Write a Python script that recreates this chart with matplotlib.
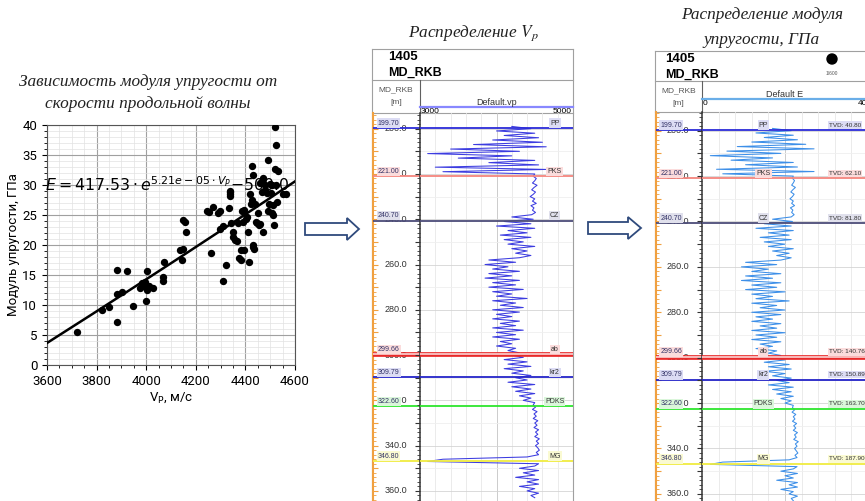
import numpy as np
import matplotlib.pyplot as plt
from matplotlib.patches import Polygon, Circle
from matplotlib.ticker import MultipleLocator, AutoMinorLocator
from matplotlib.transforms import blended_transform_factory

plt.rcParams['font.family'] = ['DejaVu Sans']

# точки кросс-плота Vp - E
vp_points = [3720, 3821, 3848, 3882, 3882, 3882, 3902, 3922, 3945, 3976,
             3983, 3990, 3996, 3999, 4003, 4005, 4013, 4027, 4066, 4067,
             4072, 4137, 4148, 4148, 4157, 4160, 4144, 4247, 4255, 4260,
             4271, 4291, 4298, 4309, 4298, 4311, 4322, 4332, 4336, 4338,
             4338, 4341, 4348, 4352, 4358, 4365, 4369, 4376, 4381, 4382,
             4385, 4391, 4394, 4396, 4403, 4405, 4412, 4416, 4419, 4421,
             4426, 4430, 4432, 4435, 4438, 4442, 4448, 4452, 4456, 4459,
             4466, 4472, 4466, 4479, 4486, 4493, 4497, 4499, 4502, 4506,
             4510, 4513, 4517, 4523, 4529, 4553, 4564, 4519, 4523, 4426,
             4432, 4493, 4519, 4533, 4472, 4479, 4459, 4506, 4338]
e_points = [5.5, 9.2, 9.6, 7.2, 15.9, 11.9, 12.2, 15.7, 9.8, 12.9,
            13.6, 13.2, 13.9, 10.6, 12.5, 15.6, 13.2, 12.8, 14.7, 14.0,
            17.1, 19.2, 19.3, 24.2, 23.9, 22.1, 17.5, 25.6, 25.5, 18.7,
            26.4, 25.4, 25.7, 23.1, 22.7, 14.0, 16.7, 26.1, 28.5, 28.9,
            28.2, 23.6, 22.1, 21.4, 20.9, 20.6, 23.7, 17.9, 17.5, 19.2,
            25.6, 23.9, 25.8, 19.1, 24.3, 24.7, 22.2, 17.1, 28.5, 26.8,
            27.5, 20.0, 19.7, 19.3, 26.9, 23.9, 23.7, 25.4, 23.3, 23.5,
            28.9, 22.1, 30.6, 29.2, 28.7, 25.6, 26.8, 30.1, 28.6, 25.4,
            26.6, 25.0, 23.3, 30.0, 27.2, 28.5, 28.5, 39.7, 36.7, 33.1,
            31.7, 34.2, 32.6, 32.3, 31.1, 30.0, 30.4, 30.0, 29.0]
fit_a, fit_b, fit_c = 417.53, 5.21e-05, -500.0

# каротаж, шаг 1 м начиная с 199 м
log_depth_start = 199
vp_log = [4200, 4450, 4000, 4500, 4100, 4550, 3950, 4600, 3700, 4650,
          3400, 4300, 3100, 4200, 3500, 4500, 3900, 4550, 3200, 4650,
          3300, 4500, 4480, 4520, 4500, 4470, 4530, 4490, 4460, 4510,
          4480, 4440, 4500, 4470, 4520, 4450, 4490, 4470, 4510, 4460,
          4200, 4480, 4100, 4450, 4000, 4500, 4150, 4400, 4050, 4450,
          4100, 4350, 4150, 4500, 4200, 4400, 4250, 4450, 4300, 3900,
          4250, 3850, 4150, 3950, 4300, 3900, 4200, 3850, 4300, 3950,
          4250, 3900, 4350, 3950, 4200, 4000, 4400, 3950, 4250, 4050,
          4350, 3950, 4300, 4000, 4200, 3950, 4300, 4050, 4250, 3950,
          4350, 4000, 4250, 3950, 4300, 4050, 4200, 4000, 4250, 4150,
          4300, 4200, 4350, 4100, 4400, 4150, 4450, 4100, 4350, 4200,
          4450, 4250, 4400, 4150, 4500, 4200, 4450, 4250, 4500, 4300,
          4450, 4350, 4500, 4480, 4510, 4470, 4530, 4490, 4520, 4480,
          4540, 4500, 4530, 4490, 4550, 4510, 4540, 4500, 4560, 4520,
          4550, 4510, 4540, 4560, 4520, 4550, 4400, 3300, 3100, 4550,
          4500, 4300, 4550, 4350, 4500, 4250, 4550, 4400, 4550, 4300,
          4500, 4400, 4550, 4450, 4500]
e_log = [17, 21.5, 13, 22, 15, 23, 12, 25, 8.5, 27,
         6, 19, 2, 17, 7, 22, 10.5, 23, 3.5, 27,
         5, 22, 21.8, 22.3, 22.0, 21.6, 22.5, 21.9, 21.4, 22.2,
         21.8, 21.2, 22.0, 21.6, 22.3, 21.3, 21.9, 21.6, 22.2, 21.5,
         17, 21.8, 15, 21.5, 13, 22, 16, 21, 14, 21.5,
         15, 20, 16, 22, 17, 21, 18, 21.5, 19, 10.5,
         18, 9.5, 16, 12, 19, 10.5, 17, 9.5, 19, 12,
         18, 10.5, 20, 12, 17, 13, 21, 12, 18, 14,
         20, 12, 19, 13, 17, 12, 19, 14, 18, 12,
         20, 13, 18, 12, 19, 14, 17, 13, 18, 16,
         19, 17, 20, 15, 21, 16, 21.5, 15, 20, 17,
         21.5, 18, 21, 16, 22, 17, 21.5, 18, 22, 19,
         21.5, 20, 22, 21.8, 22.3, 21.7, 22.6, 22.0, 22.4, 21.8,
         22.8, 22.1, 22.6, 22.0, 23.0, 22.3, 22.7, 22.1, 23.2, 22.5,
         22.9, 22.3, 22.7, 23.1, 22.4, 22.9, 21, 5, 2, 22.9,
         22.0, 19, 23, 20, 22, 18, 23, 21, 23, 19,
         22, 21, 23, 21.5, 22]

# стратиграфические отбивки
tops_md = [199.70, 221.00, 240.70, 299.66, 309.79, 322.60, 346.80]
tops_name = ['PP', 'PKS', 'CZ', 'ab', 'kr2', 'PDKS', 'MG']
tops_tvd = [40.80, 62.10, 81.80, 140.76, 150.89, 163.70, 187.90]
tops_color = ['#2b2bd8', '#f4857d', '#4c4c78', '#e82a2a', '#2424c8', '#2ee62e', '#f0ec40']
tops_tint = ['#dcdcf4', '#fbdcdc', '#e0e0ec', '#fbdcdc', '#dcdcf4', '#daf6da', '#fafad2']

W, H = 865, 501
fig = plt.figure(figsize=(W / 100, H / 100), dpi=100)


def px_axes(x0, y0, x1, y1):
    return fig.add_axes([x0 / W, 1 - y1 / H, (x1 - x0) / W, (y1 - y0) / H])


bg = px_axes(0, 0, W, H)
bg.set_xlim(0, W)
bg.set_ylim(H, 0)
bg.axis('off')

serif = dict(family='Liberation Serif', style='italic', color='#222222',
             ha='center', va='center')
bg.text(148, 82, 'Зависимость модуля упругости от', fontsize=12.4, **serif)
bg.text(148, 104, 'скорости продольной волны', fontsize=12.4, **serif)
bg.text(473, 33, 'Распределение $V_p$', math_fontfamily='stix', fontsize=12.4, **serif)
bg.text(762, 15, 'Распределение модуля', fontsize=12.4, **serif)
bg.text(762, 40, 'упругости, ГПа', fontsize=12.4, **serif)

# стрелки
for xs, xh, xt, yc in [(305, 347, 359, 229), (588, 628, 641, 228)]:
    pts = [(xs, yc - 6), (xh, yc - 6), (xh, yc - 11), (xt, yc), (xh, yc + 11),
           (xh, yc + 6), (xs, yc + 6)]
    bg.add_patch(Polygon(pts, closed=True, facecolor='white', edgecolor='#2f4a7c', lw=1.3))

# кросс-плот
ax = px_axes(47, 125, 295, 365)
ax.set_axisbelow(True)
ax.scatter(vp_points, e_points, s=28, c='black', zorder=3, linewidths=0)
v_fit = np.linspace(3600, 4600, 200)
ax.plot(v_fit, fit_a * np.exp(fit_b * v_fit) + fit_c, color='black', lw=1.8, zorder=4)
ax.set_xlim(3600, 4600)
ax.set_ylim(0, 40)
ax.set_xticks(range(3600, 4601, 200))
ax.set_yticks(range(0, 41, 5))
ax.xaxis.set_minor_locator(AutoMinorLocator())
ax.yaxis.set_minor_locator(AutoMinorLocator())
ax.grid(which='major', color='#a0a0a0', lw=0.8)
ax.grid(which='minor', color='#e2e2e2', lw=0.5)
ax.tick_params(labelsize=9.5)
for lab in ax.get_xticklabels() + ax.get_yticklabels():
    lab.set_family('Roboto')
for s in ax.spines.values():
    s.set_color('#555555')
ax.set_xlabel('V$_\\mathrm{P}$, м/с', fontsize=9.5, family='Roboto', labelpad=2)
ax.set_ylabel('Модуль упругости, ГПа', fontsize=9.5, family='Roboto', labelpad=2)
eq = f'$E = {fit_a:.2f} \\cdot e^{{{fit_b:.2e} \\cdot V_P}}$\u2212{abs(fit_c):.1f}'
ax.text(3593, 30, eq, fontsize=11.3, ha='left', va='center', zorder=5)

sans = 'Liberation Sans'


def log_panel(x0, xc, x1, y_top, y_sep, y_hdr, y_ref, k, curve, lo, hi, curve_color,
              header, y_scale, scale_color, with_tvd, hdr_dx):
    d_top = tops_md[0] + (y_hdr - y_ref) / k
    d_bot = tops_md[0] + (H - y_ref) / k
    for y in (y_top, y_sep, y_hdr):
        bg.plot([x0, x1], [y, y], color='#a0a0a0', lw=0.8)
    bg.plot([x0, x0], [y_top, H], color='#a0a0a0', lw=0.8)
    bg.plot([x1, x1], [y_top, H], color='#a0a0a0', lw=0.8)
    bg.plot([xc, xc], [y_sep, y_hdr], color='#606060', lw=0.8)
    bg.text(x0 + hdr_dx, y_top + 8, '1405', family=sans, fontweight='bold', fontsize=9.5,
            va='center')
    bg.text(x0 + hdr_dx, y_top + 24, 'MD_RKB', family=sans, fontweight='bold', fontsize=9,
            va='center')
    bg.text((x0 + xc) / 2, y_sep + 10, 'MD_RKB', family=sans, fontsize=6, color='#555555',
            ha='center', va='center')
    bg.text((x0 + xc) / 2, y_sep + 22, '[m]', family=sans, fontsize=6, color='#555555',
            ha='center', va='center')
    bg.text((xc + x1) / 2, y_scale - 5, header, family=sans, fontsize=6.5,
            color='#333333', ha='center', va='center')
    bg.plot([xc, x1], [y_scale, y_scale], color=scale_color, lw=1.6)
    bg.text(xc + 1, y_scale + 4, f'{lo}', family=sans, fontsize=6, ha='left', va='center')
    bg.text(x1 - 1, y_scale + 4, f'{hi}', family=sans, fontsize=6, ha='right', va='center')

    depth = np.arange(log_depth_start, log_depth_start + len(curve))
    col = px_axes(x0 + 1, y_hdr, xc, H)
    trk = px_axes(xc, y_hdr, x1, H)
    for a in (col, trk):
        a.set_facecolor('none')
        a.set_ylim(d_bot, d_top)
        a.set_xticks([])
        a.yaxis.set_major_locator(MultipleLocator(10))
        a.yaxis.set_minor_locator(MultipleLocator(2))
        for s in ('top', 'bottom', 'right'):
            a.spines[s].set_visible(False)
    col.set_xlim(0, 1)
    col.spines['left'].set_color('#f0a040')
    col.spines['left'].set_linewidth(1.5)
    col.tick_params(axis='y', which='major', direction='in', length=3.5, color='#f0a040',
                    labelleft=False)
    col.tick_params(axis='y', which='minor', direction='in', length=2, color='#f0a040')
    trk.spines['left'].set_color('#333333')
    trk.spines['left'].set_linewidth(1.1)
    trk.tick_params(axis='y', which='major', direction='out', length=3.5, color='#333333',
                    labelleft=False)
    trk.tick_params(axis='y', which='minor', direction='out', length=2, color='#333333')
    trk.set_xlim(lo, hi)
    for i, v in enumerate(np.linspace(lo, hi, 11)[1:-1]):
        trk.axvline(v, color='#c4c4c4' if i == 4 else '#e8e8e8', lw=0.6, zorder=0)
    for d in range(200, 370, 10):
        trk.axhline(d, color='#d4d4d4' if d % 20 == 0 else '#efefef', lw=0.6, zorder=0)
    trk.plot(curve, depth, color=curve_color, lw=0.75, zorder=2)

    tr = blended_transform_factory(col.transAxes, col.transData)
    for d in range(200, 361, 20):
        col.text(0.72, d, f'{d:.1f}', transform=tr, family=sans, fontsize=6.5,
                 color='#333333', ha='right', va='center')

    ttr = blended_transform_factory(trk.transAxes, trk.transData)
    for md, name, tvd, lc, tint in zip(tops_md, tops_name, tops_tvd, tops_color, tops_tint):
        for a in (col, trk):
            if name == 'ab':
                a.axhline(md, color=lc, lw=3.4, zorder=3)
                a.axhline(md, color='#fbd4d4', lw=1.2, zorder=3)
            else:
                a.axhline(md, color=lc, lw=1.3, zorder=3)
        box = dict(facecolor=tint, edgecolor='none', pad=0.8)
        col.text(0.1, md - 2.2, f'{md:.2f}', transform=tr, family=sans, fontsize=5,
                 color='#333366', ha='left', va='center', bbox=box, zorder=5)
        if with_tvd:
            trk.text(0.37, md - 2.2, name, transform=ttr, family=sans, fontsize=5,
                     color='#333333', ha='center', va='center', bbox=box, zorder=5)
            trk.text(0.765, md - 2.2, f'TVD: {tvd:.2f}', transform=ttr, family=sans,
                     fontsize=4.6, color='#333333', ha='left', va='center', bbox=box, zorder=5)
        else:
            trk.text(0.88, md - 2.2, name, transform=ttr, family=sans, fontsize=5,
                     color='#333333', ha='center', va='center', bbox=box, zorder=5)


log_panel(372, 420, 573, 49, 80, 113, 128, 2.264, vp_log, 3000, 5000, '#3c3ce0',
          'Default.vp', 107, '#8888ff', False, 16)
log_panel(655, 702, 868, 51, 81, 112, 130, 2.27, e_log, 0, 40, '#3d8fe8',
          'Default E', 99, '#6aaee8', True, 10)

bg.add_patch(Circle((832, 59), 5, color='black'))
bg.text(832, 73, '1/600', family=sans, fontsize=3.5, color='#555555', ha='center', va='center')

fig.savefig('out.png', dpi=100)
